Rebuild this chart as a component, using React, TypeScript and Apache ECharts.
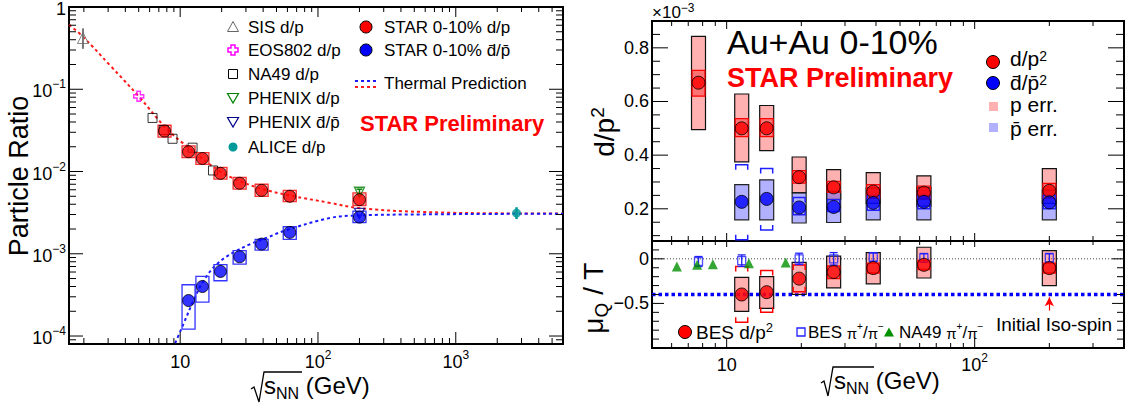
import React, { useEffect, useRef } from 'react';
import * as echarts from 'echarts';

const FONT = '"Liberation Sans", Arial, Helvetica, sans-serif';
const BAR = '\u0304';

// ===== Left panel: particle ratios vs sqrt(sNN) =====
const starE = [7.7, 11.5, 14.5, 19.6, 27, 39, 62.4, 200];
const starDP = [0.031, 0.0174, 0.0144, 0.0095, 0.0072, 0.0059, 0.005, 0.00455];
const starDPLo = [0.0262, 0.0148, 0.0122, 0.0081, 0.0061, 0.005, 0.0043, 0.00386];
const starDPHi = [0.0365, 0.0205, 0.017, 0.0112, 0.0085, 0.007, 0.0059, 0.0055];

const starAntiE = [11.5, 14.5, 19.6, 27, 39, 62.4, 200];
const starAntiDP = [0.00027, 0.0004, 0.00061, 0.00092, 0.00131, 0.00182, 0.00279];
const starAntiLo = [0.000121, 0.000259, 0.00047, 0.00075, 0.00111, 0.0015, 0.0024];
const starAntiHi = [0.00042, 0.00053, 0.00074, 0.00109, 0.0015, 0.00213, 0.0033];

const sisE = [1.97];
const sisDP = [0.42];
const sisLo = [0.31];
const sisHi = [0.55];
const eosE = [5.0];
const eosDP = [0.082];
const na49E = [6.3, 7.6, 8.8, 12.3, 17.3];
const na49DP = [0.0448, 0.032, 0.025, 0.0195, 0.0103];
const phenixE = [200];
const phenixDP = [0.0056];
const phenixDPLo = [0.0052];
const phenixDPHi = [0.0061];
const phenixAntiDP = [0.0031];
const aliceE = [2760];
const aliceDP = [0.00312];
const aliceLo = [0.00264];
const aliceHi = [0.00368];

const thermalRedE = [1.56, 1.97, 3.1, 5.0, 8.0, 11.8, 19.5, 27.3, 40, 63, 123, 194, 556, 2820, 6000];
const thermalRedR = [0.61, 0.435, 0.195, 0.082, 0.033, 0.0189, 0.01, 0.0076, 0.0061, 0.0051, 0.00415, 0.00361, 0.00323, 0.00309, 0.00308];
const thermalBlueE = [9.2, 10.6, 12.5, 14.8, 18.5, 24.4, 32.3, 42.7, 56.4, 123, 194, 556, 2820, 6000];
const thermalBlueR = [0.000082, 0.000142, 0.00027, 0.00047, 0.00075, 0.00104, 0.00131, 0.00157, 0.00189, 0.00273, 0.00292, 0.00301, 0.00306, 0.00307];

// ===== Right top: d/p^2 (x1e-3) =====
const besE = [7.7, 11.5, 14.5, 19.6, 27, 39, 62.4, 200];
const dp2 = [0.67, 0.5, 0.5, 0.318, 0.28, 0.264, 0.26, 0.267];
const dp2ErrLo = [0.495, 0.375, 0.417, 0.26, 0.235, 0.22, 0.21, 0.22];
const dp2ErrHi = [0.843, 0.628, 0.585, 0.393, 0.346, 0.335, 0.323, 0.35];
const dp2SysLo = [0.62, 0.469, 0.469, 0.296, 0.261, 0.24, 0.235, 0.24];
const dp2SysHi = [0.716, 0.536, 0.536, 0.342, 0.302, 0.29, 0.285, 0.295];

const antiE = [11.5, 14.5, 19.6, 27, 39, 62.4, 200];
const adp2 = [0.226, 0.237, 0.205, 0.207, 0.222, 0.226, 0.224];
const adp2ErrLo = [0.159, 0.159, 0.147, 0.149, 0.159, 0.159, 0.159];
const adp2ErrHi = [0.29, 0.308, 0.259, 0.265, 0.278, 0.28, 0.27];
const adp2SysLo = [0.085, 0.121, 0.178, 0.19, 0.195, 0.2, 0.2];
const adp2SysHi = [0.364, 0.35, 0.242, 0.234, 0.25, 0.25, 0.25];

// ===== Right bottom: mu_Q / T =====
const muE = [11.5, 14.5, 19.6, 27, 39, 62.4, 200];
const muQT = [-0.4, -0.374, -0.222, -0.148, -0.104, -0.067, -0.104];
const muErrLo = [-0.59, -0.556, -0.4, -0.326, -0.28, -0.215, -0.3];
const muErrHi = [-0.207, -0.2, -0.04, 0.03, 0.07, 0.13, 0.092];
const muSysLo = [-0.71, -0.6, -0.37, -0.22, -0.16, -0.12, -0.16];
const muSysHi = [-0.085, -0.13, -0.07, -0.08, -0.05, -0.02, -0.05];
const piE = [7.7, 11.5, 19.6, 27, 39, 62.4, 200];
const piMu = [-0.03, -0.02, 0.0, 0.0, 0.02, 0.01, 0.01];
const piErr = [0.056, 0.064, 0.063, 0.07, 0.05, 0.05, 0.05];
const na49PiE = [6.3, 7.6, 8.8, 12.3, 17.3];
const na49PiMu = [-0.085, -0.067, -0.06, -0.05, -0.04];
const isoSpinE = [5, 400];
const isoSpinMu = [-0.4, -0.4];
const zeroE = [5, 400];
const zeroMu = [0, 0];
const arrowE = 200;
const arrowFrom = -0.58;
const arrowTo = -0.43;

const topYTicks = [0.1, 0.15, 0.2, 0.25, 0.3, 0.35, 0.4, 0.45, 0.5, 0.55, 0.6, 0.65, 0.7, 0.75, 0.8, 0.85];
const topYMajor = [0.2, 0.4, 0.6, 0.8];
const botYTicks = [-0.9, -0.8, -0.7, -0.6, -0.5, -0.4, -0.3, -0.2, -0.1, 0, 0.1];
const botYMajor = [0, -0.5];

const zip = (xs: number[], ys: number[]) => xs.map((x, i) => [x, ys[i]]);

function logTicks(min: number, max: number, other: number, kind: number) {
  const out: number[][] = [];
  for (let k = -6; k <= 5; k++) {
    for (let m = 1; m <= 9; m++) {
      const v = +(m * Math.pow(10, k)).toPrecision(6);
      if (v > min * 1.0001 && v < max * 0.9999) {
        out.push(kind === 0 ? [v, other, 0, m === 1 ? 1 : 0] : [other, v, 1, m === 1 ? 1 : 0]);
      }
    }
  }
  return out;
}
function linTicks(vals: number[], majors: number[], other: number) {
  return vals.map((v) => [other, v, 1, majors.some((m) => Math.abs(m - v) < 1e-9) ? 1 : 0]);
}

function tickSeries(gi: number, items: number[][], L: any) {
  return {
    type: 'custom', xAxisIndex: gi, yAxisIndex: gi, silent: true, z: 20, clip: false,
    data: items,
    renderItem: (params: any, api: any) => {
      const cs = params.coordSys;
      const p = api.coord([api.value(0), api.value(1)]);
      const major = api.value(3) === 1;
      const st = { stroke: '#000', lineWidth: 1 };
      if (api.value(2) === 0) {
        const l = major ? L.xMaj : L.xMin;
        const lt = major ? L.xMajT : L.xMinT;
        return {
          type: 'group', children: [
            { type: 'line', shape: { x1: p[0], y1: cs.y + cs.height, x2: p[0], y2: cs.y + cs.height - l }, style: st },
            { type: 'line', shape: { x1: p[0], y1: cs.y, x2: p[0], y2: cs.y + lt }, style: st },
          ],
        };
      }
      const l = major ? L.yMaj : L.yMin;
      return {
        type: 'group', children: [
          { type: 'line', shape: { x1: cs.x, y1: p[1], x2: cs.x + l, y2: p[1] }, style: st },
          { type: 'line', shape: { x1: cs.x + cs.width, y1: p[1], x2: cs.x + cs.width - l, y2: p[1] }, style: st },
        ],
      };
    },
  };
}

function boxSeries(gi: number, xs: number[], lo: number[], hi: number[], opt: any) {
  return {
    type: 'custom', xAxisIndex: gi, yAxisIndex: gi, silent: true, z: opt.z || 8,
    data: xs.map((x, i) => [x, lo[i], hi[i]]),
    renderItem: (params: any, api: any) => {
      const t = api.coord([api.value(0), api.value(2)]);
      const b = api.coord([api.value(0), api.value(1)]);
      const h = opt.half;
      const st = { stroke: opt.stroke, fill: 'none', lineWidth: opt.lw || 1 };
      if (opt.kind === 'bracket') {
        const c = opt.cap;
        return {
          type: 'group', children: [
            { type: 'polyline', shape: { points: [[t[0] - h, t[1] + c], [t[0] - h, t[1]], [t[0] + h, t[1]], [t[0] + h, t[1] + c]] }, style: st },
            { type: 'polyline', shape: { points: [[b[0] - h, b[1] - c], [b[0] - h, b[1]], [b[0] + h, b[1]], [b[0] + h, b[1] - c]] }, style: st },
          ],
        };
      }
      if (opt.kind === 'bar') {
        const ch: any[] = [{ type: 'line', shape: { x1: t[0], y1: t[1], x2: b[0], y2: b[1] }, style: st }];
        if (h > 0) {
          ch.push({ type: 'line', shape: { x1: t[0] - h, y1: t[1], x2: t[0] + h, y2: t[1] }, style: st });
          ch.push({ type: 'line', shape: { x1: b[0] - h, y1: b[1], x2: b[0] + h, y2: b[1] }, style: st });
        }
        return { type: 'group', children: ch };
      }
      return {
        type: 'rect',
        shape: { x: t[0] - h, y: t[1], width: 2 * h, height: b[1] - t[1] },
        style: { fill: opt.fill || 'none', stroke: opt.stroke, lineWidth: opt.lw || 1 },
      };
    },
  };
}

function scatter(gi: number, data: number[][], symbol: string, size: number, itemStyle: any, z = 30, rotate = 0) {
  return { type: 'scatter', xAxisIndex: gi, yAxisIndex: gi, data, symbol, symbolSize: size, symbolRotate: rotate, itemStyle, z, silent: true };
}

function powLabel(v: number) {
  const l = Math.log10(v);
  const e = Math.round(l);
  if (Math.abs(l - e) > 1e-6) return '';
  if (e === 0) return '{b|1}';
  if (e === 1) return '{b|10}';
  return `{b|10}{s|${e < 0 ? '\u2212' : ''}${Math.abs(e)}}`;
}

const tickRich = {
  b: { fontSize: 18, fontFamily: FONT, color: '#000', lineHeight: 22, verticalAlign: 'bottom' },
  s: { fontSize: 12, fontFamily: FONT, color: '#000', verticalAlign: 'top' },
};

const hiddenAxis = {
  axisLine: { show: false }, axisTick: { show: false }, splitLine: { show: false }, minorTick: { show: false },
};

function T(x: number, y: number, text: string, size: number, o: any = {}) {
  return {
    type: 'text', x, y, silent: true, z: 100, rotation: o.rot || 0,
    style: {
      text, fill: o.color || '#000', font: `${o.bold ? 'bold ' : ''}${size}px ${FONT}`,
      fontSize: size, fontFamily: FONT, fontWeight: o.bold ? 'bold' : 'normal',
      align: o.align || 'left', verticalAlign: o.va || 'middle', rich: o.rich,
    },
  };
}
function RT(size: number, sup: number, lh = size + 4, color = '#000') {
  return {
    b: { fontSize: size, fontFamily: FONT, fill: color, color, lineHeight: lh, verticalAlign: 'bottom' },
    s: { fontSize: sup, fontFamily: FONT, fill: color, color, verticalAlign: 'top' },
  };
}

function buildOption() {
  const redFill = 'rgba(255,70,70,0.42)';
  const blueFill = 'rgba(70,70,255,0.42)';
  const series: any[] = [
    // ---- left panel ----
    { type: 'line', xAxisIndex: 0, yAxisIndex: 0, data: zip(thermalRedE, thermalRedR), showSymbol: false, smooth: 0.4, silent: true, z: 5, lineStyle: { color: '#ff1a1a', width: 2, type: [3, 3] } },
    { type: 'line', xAxisIndex: 0, yAxisIndex: 0, data: zip(thermalBlueE, thermalBlueR), showSymbol: false, smooth: 0.4, silent: true, z: 5, lineStyle: { color: '#1a1aff', width: 2, type: [3, 3] } },
    boxSeries(0, starE, starDPLo, starDPHi, { half: 6.5, stroke: '#ff3030', fill: 'rgba(255,90,90,0.35)', lw: 1.3 }),
    boxSeries(0, starAntiE, starAntiLo, starAntiHi, { half: 6.5, stroke: '#3535ff', lw: 1.3 }),
    boxSeries(0, sisE, sisLo, sisHi, { kind: 'bar', half: 0, stroke: '#777', lw: 2 }),
    boxSeries(0, aliceE, aliceLo, aliceHi, { kind: 'bar', half: 0, stroke: '#009a9a', lw: 2.5 }),
    boxSeries(0, phenixE, phenixDPLo, phenixDPHi, { kind: 'bar', half: 3, stroke: '#008000', lw: 1.5 }),
    scatter(0, zip(na49E, na49DP), 'rect', 9, { color: 'rgba(0,0,0,0)', borderColor: '#000', borderWidth: 1 }, 25),
    scatter(0, zip(sisE, sisDP), 'triangle', 11, { color: 'rgba(0,0,0,0)', borderColor: '#666', borderWidth: 1 }, 25),
    scatter(0, zip(eosE, eosDP), 'path://M1,0 H2 V1 H3 V2 H2 V3 H1 V2 H0 V1 H1 Z', 10, { color: 'rgba(0,0,0,0)', borderColor: '#ff00ff', borderWidth: 1.5 }, 25),
    scatter(0, zip(phenixE, phenixDP), 'triangle', 10, { color: 'rgba(0,0,0,0)', borderColor: '#008000', borderWidth: 1.3 }, 25, 180),
    scatter(0, zip(phenixE, phenixAntiDP), 'triangle', 10, { color: 'rgba(0,0,0,0)', borderColor: '#00008b', borderWidth: 1.3 }, 25, 180),
    scatter(0, zip(aliceE, aliceDP), 'circle', 9, { color: '#009a9a' }, 26),
    scatter(0, zip(starE, starDP), 'circle', 12, { color: '#ff0000', borderColor: '#000', borderWidth: 1 }, 30),
    scatter(0, zip(starAntiE, starAntiDP), 'circle', 12, { color: '#0000ff', borderColor: '#000', borderWidth: 1 }, 30),

    // ---- right top panel ----
    boxSeries(1, besE, dp2ErrLo, dp2ErrHi, { half: 7, stroke: '#111', fill: redFill, lw: 1.2, z: 6 }),
    boxSeries(1, antiE, adp2ErrLo, adp2ErrHi, { half: 7, stroke: '#222', fill: blueFill, lw: 1.2, z: 7 }),
    boxSeries(1, besE, dp2SysLo, dp2SysHi, { half: 6.5, stroke: '#ff0000', fill: 'rgba(255,0,0,0.35)', lw: 1.2, z: 8 }),
    boxSeries(1, antiE, adp2SysLo, adp2SysHi, { kind: 'bracket', half: 6, cap: 5, stroke: '#2020ff', lw: 1.5, z: 8 }),
    scatter(1, zip(besE, dp2), 'circle', 13, { color: '#ff0000', borderColor: '#000', borderWidth: 1 }, 30),
    scatter(1, zip(antiE, adp2), 'circle', 13, { color: '#0000ff', borderColor: '#000', borderWidth: 1 }, 30),

    // ---- right bottom panel ----
    {
      type: 'line', xAxisIndex: 2, yAxisIndex: 2, data: zip(zeroE, zeroMu), showSymbol: false, silent: true, z: 4,
      lineStyle: { color: '#444', width: 1, type: [1, 2] },
      markLine: {
        silent: true, symbol: ['none', 'arrow'], symbolSize: [7, 9], label: { show: false },
        lineStyle: { color: '#ff0000', width: 1.2, type: 'solid' },
        data: [[{ coord: [arrowE, arrowFrom] }, { coord: [arrowE, arrowTo] }]],
      },
    },
    { type: 'line', xAxisIndex: 2, yAxisIndex: 2, data: zip(isoSpinE, isoSpinMu), showSymbol: false, silent: true, z: 5, lineStyle: { color: '#0000ff', width: 3.5, type: [3.5, 3] } },
    boxSeries(2, muE, muErrLo, muErrHi, { half: 7, stroke: '#111', fill: redFill, lw: 1.2, z: 6 }),
    boxSeries(2, muE, muSysLo, muSysHi, { kind: 'bracket', half: 6, cap: 5, stroke: '#ff0000', lw: 1.5, z: 8 }),
    boxSeries(2, piE, piMu.map((v, i) => v - piErr[i]), piMu.map((v, i) => v + piErr[i]), { kind: 'bar', half: 4, stroke: '#2020ff', lw: 1.3, z: 9 }),
    scatter(2, zip(piE, piMu), 'rect', 8, { color: 'rgba(255,255,255,0)', borderColor: '#2020ff', borderWidth: 1.3 }, 10),
    scatter(2, zip(na49PiE, na49PiMu), 'triangle', 10, { color: '#009000' }, 25),
    scatter(2, zip(muE, muQT), 'circle', 13, { color: '#ff0000', borderColor: '#000', borderWidth: 1 }, 30),

    // ---- ticks ----
    tickSeries(0, [...logTicks(1.56, 6000, 0.01, 0), ...logTicks(8e-5, 1, 10, 1)], { xMaj: 12, xMin: 6, xMajT: 10, xMinT: 5, yMaj: 14, yMin: 7 }),
    tickSeries(1, [...logTicks(5, 400, 0.5, 0), ...linTicks(topYTicks, topYMajor, 10)], { xMaj: 8, xMin: 5, xMajT: 8, xMinT: 5, yMaj: 16, yMin: 8 }),
    tickSeries(2, [...logTicks(5, 400, -0.5, 0), ...linTicks(botYTicks, botYMajor, 10)], { xMaj: 10, xMin: 5, xMajT: 6, xMinT: 4, yMaj: 12, yMin: 7 }),
  ];

  const ov = (s: string) => s.split('').map((c) => (c === 'd' || c === 'p' ? c + BAR : c)).join('');
  const piRich = {
    b: { fontSize: 17, fontFamily: FONT, fill: '#000', lineHeight: 20, verticalAlign: 'bottom' },
    p: { fontSize: 15, fontFamily: FONT, fill: '#000', lineHeight: 20, verticalAlign: 'bottom' },
    s: { fontSize: 10, fontFamily: FONT, fill: '#000', verticalAlign: 'top' },
  };
  const piText = (pre: string) => `{b|${pre} }{p|\u03c0}{s|+}{b|/}{p|\u03c0}{s|\u2212}`;

  const graphic: any[] = [
    // left legend symbols
    { type: 'polygon', silent: true, z: 100, shape: { points: [[233, 21.5], [238.5, 31.5], [227.5, 31.5]] }, style: { fill: 'none', stroke: '#666', lineWidth: 1 } },
    { type: 'polygon', silent: true, z: 100, shape: { points: [[231, 45], [235, 45], [235, 48], [238, 48], [238, 52], [235, 52], [235, 55], [231, 55], [231, 52], [228, 52], [228, 48], [231, 48]] }, style: { fill: 'none', stroke: '#ff00ff', lineWidth: 1.5 } },
    { type: 'rect', silent: true, z: 100, shape: { x: 228.5, y: 69.5, width: 9, height: 9 }, style: { fill: 'none', stroke: '#000', lineWidth: 1 } },
    { type: 'polygon', silent: true, z: 100, shape: { points: [[227.5, 93.5], [238.5, 93.5], [233, 103]] }, style: { fill: 'none', stroke: '#008000', lineWidth: 1.2 } },
    { type: 'polygon', silent: true, z: 100, shape: { points: [[227.5, 117.5], [238.5, 117.5], [233, 127]] }, style: { fill: 'none', stroke: '#00008b', lineWidth: 1.2 } },
    { type: 'circle', silent: true, z: 100, shape: { cx: 233, cy: 147, r: 4.5 }, style: { fill: '#009a9a' } },
    { type: 'circle', silent: true, z: 100, shape: { cx: 366, cy: 27, r: 6 }, style: { fill: '#ff0000', stroke: '#000', lineWidth: 1 } },
    { type: 'circle', silent: true, z: 100, shape: { cx: 366, cy: 50, r: 6 }, style: { fill: '#0000ff', stroke: '#000', lineWidth: 1 } },
    { type: 'line', silent: true, z: 100, shape: { x1: 355, y1: 81, x2: 377, y2: 81 }, style: { stroke: '#1a1aff', lineWidth: 2, lineDash: [3, 3] } },
    { type: 'line', silent: true, z: 100, shape: { x1: 355, y1: 87, x2: 377, y2: 87 }, style: { stroke: '#ff1a1a', lineWidth: 2, lineDash: [3, 3] } },
    T(248, 27, 'SIS d/p', 17),
    T(248, 50, 'EOS802 d/p', 17),
    T(248, 74, 'NA49 d/p', 17),
    T(248, 98, 'PHENIX d/p', 17),
    T(248, 122, 'PHENIX ' + ov('d/p'), 17),
    T(248, 147, 'ALICE d/p', 17),
    T(384, 27, 'STAR 0-10% d/p', 17),
    T(384, 50, 'STAR 0-10% ' + ov('d/p'), 17),
    T(384, 83, 'Thermal Prediction', 17),
    T(360, 123, 'STAR Preliminary', 22, { bold: true, color: '#ff0000' }),

    // axis titles
    T(19, 176, 'Particle Ratio', 27, { rot: Math.PI / 2, align: 'center' }),
    T(603, 132, '{b|d/p}{s|2}', 28, { rot: Math.PI / 2, align: 'center', rich: RT(28, 19, 30) }),
    T(595, 298, '{b|\u03bc}{q|Q}{b| / T}', 28, {
      rot: Math.PI / 2, align: 'center',
      rich: {
        b: { fontSize: 28, fontFamily: FONT, fill: '#000', lineHeight: 32, verticalAlign: 'top' },
        q: { fontSize: 19, fontFamily: FONT, fill: '#000', verticalAlign: 'bottom' },
      },
    }),

    // x titles (left)
    { type: 'polyline', silent: true, z: 100, shape: { points: [[251, 389], [254, 387], [259, 402], [264, 372], [302, 372]] }, style: { fill: 'none', stroke: '#000', lineWidth: 1.3 } },
    T(264, 387, '{s|s}{n|NN}{g| (GeV)}', 24, {
      rich: {
        s: { fontSize: 24, fontFamily: FONT, fill: '#000', lineHeight: 28, verticalAlign: 'top' },
        n: { fontSize: 16, fontFamily: FONT, fill: '#000', verticalAlign: 'bottom' },
        g: { fontSize: 24, fontFamily: FONT, fill: '#000', verticalAlign: 'top' },
      },
    }),
    // x titles (right)
    { type: 'polyline', silent: true, z: 100, shape: { points: [[821, 383], [824, 381], [828, 396], [833, 367], [874, 367]] }, style: { fill: 'none', stroke: '#000', lineWidth: 1.3 } },
    T(834, 382, '{s|s}{n|NN}{g| (GeV)}', 24, {
      rich: {
        s: { fontSize: 24, fontFamily: FONT, fill: '#000', lineHeight: 28, verticalAlign: 'top' },
        n: { fontSize: 16, fontFamily: FONT, fill: '#000', verticalAlign: 'bottom' },
        g: { fontSize: 24, fontFamily: FONT, fill: '#000', verticalAlign: 'top' },
      },
    }),

    // right top texts
    T(652, 11, '{b|\u00d710}{s|\u22123}', 17, { rich: RT(17, 12, 19) }),
    T(727, 42, 'Au+Au 0-10%', 34),
    T(727, 78, 'STAR Preliminary', 27, { bold: true, color: '#ff0000' }),
    { type: 'circle', silent: true, z: 100, shape: { cx: 993, cy: 62, r: 6.5 }, style: { fill: '#ff0000', stroke: '#000', lineWidth: 1 } },
    { type: 'circle', silent: true, z: 100, shape: { cx: 993, cy: 83, r: 6.5 }, style: { fill: '#0000ff', stroke: '#000', lineWidth: 1 } },
    { type: 'rect', silent: true, z: 100, shape: { x: 989, y: 102, width: 9, height: 9 }, style: { fill: redFill } },
    { type: 'rect', silent: true, z: 100, shape: { x: 989, y: 123, width: 9, height: 9 }, style: { fill: blueFill } },
    T(1010, 59, '{b|d/p}{s|2}', 21, { rich: RT(21, 14, 20) }),
    T(1010, 83, '{b|' + ov('d/p') + '}{s|2}', 21, { rich: RT(21, 14, 20) }),
    T(1010, 105, '{b|p err.}', 21, { rich: RT(21, 14, 20) }),
    T(1010, 129, '{b|' + ov('p') + ' err.}', 21, { rich: RT(21, 14, 20) }),

    // right bottom legend
    { type: 'circle', silent: true, z: 100, shape: { cx: 685, cy: 332, r: 6.5 }, style: { fill: '#ff0000', stroke: '#000', lineWidth: 1 } },
    T(696, 331, '{b|BES d/p}{s|2}', 19, { rich: RT(19, 13, 21) }),
    { type: 'rect', silent: true, z: 100, shape: { x: 797, y: 328, width: 8, height: 8 }, style: { fill: 'none', stroke: '#2020ff', lineWidth: 1.3 } },
    T(808, 331, piText('BES'), 17, { rich: piRich }),
    { type: 'polygon', silent: true, z: 100, shape: { points: [[884, 336.5], [894, 336.5], [889, 327.5]] }, style: { fill: '#009000' } },
    T(899, 331, piText('NA49'), 17, { rich: piRich }),
    T(996, 324, 'Initial Iso-spin', 19),
  ];

  return {
    animation: false,
    backgroundColor: '#fff',
    grid: [
      { left: 69, top: 5, width: 494, height: 339, show: true, borderColor: '#000', borderWidth: 2, backgroundColor: 'transparent' },
      { left: 652, top: 21, width: 472, height: 220, show: true, borderColor: '#000', borderWidth: 2, backgroundColor: 'transparent' },
      { left: 652, top: 241, width: 472, height: 107, show: true, borderColor: '#000', borderWidth: 2, backgroundColor: 'transparent' },
    ],
    xAxis: [
      { gridIndex: 0, type: 'log', logBase: 10, min: 1.56, max: 6000, ...hiddenAxis, axisLabel: { formatter: powLabel, margin: 5, rich: tickRich, color: '#000' } },
      { gridIndex: 1, type: 'log', logBase: 10, min: 5, max: 400, ...hiddenAxis, axisLabel: { show: false } },
      { gridIndex: 2, type: 'log', logBase: 10, min: 5, max: 400, ...hiddenAxis, axisLabel: { formatter: powLabel, margin: 4, rich: tickRich, color: '#000' } },
    ],
    yAxis: [
      { gridIndex: 0, type: 'log', logBase: 10, min: 8e-5, max: 1, ...hiddenAxis, axisLabel: { formatter: powLabel, margin: 3, rich: tickRich, color: '#000' } },
      {
        gridIndex: 1, type: 'value', min: 0.08, max: 0.9, ...hiddenAxis,
        axisLabel: {
          margin: 3, color: '#000', fontSize: 18, fontFamily: FONT,
          formatter: (v: number) => {
            const r = Math.round(v * 5);
            return Math.abs(v * 5 - r) < 1e-6 && r >= 1 && r <= 4 ? (r * 0.2).toFixed(1) : '';
          },
        },
      },
      {
        gridIndex: 2, type: 'value', min: -1, max: 0.2, interval: 0.5, ...hiddenAxis,
        axisLabel: {
          margin: 3, color: '#000', fontSize: 18, fontFamily: FONT,
          formatter: (v: number) => (Math.abs(v) < 1e-9 ? '0' : Math.abs(v + 0.5) < 1e-9 ? '\u22120.5' : ''),
        },
      },
    ],
    series,
    graphic,
  };
}

export default function App() {
  const ref = useRef<HTMLDivElement>(null);
  useEffect(() => {
    const chart = echarts.init(ref.current!, undefined, { renderer: 'svg' });
    chart.setOption(buildOption() as any);
    return () => chart.dispose();
  }, []);
  return <div ref={ref} style={{ position: 'absolute', left: 0, top: 0, width: 1130, height: 409, background: '#fff' }} />;
}
